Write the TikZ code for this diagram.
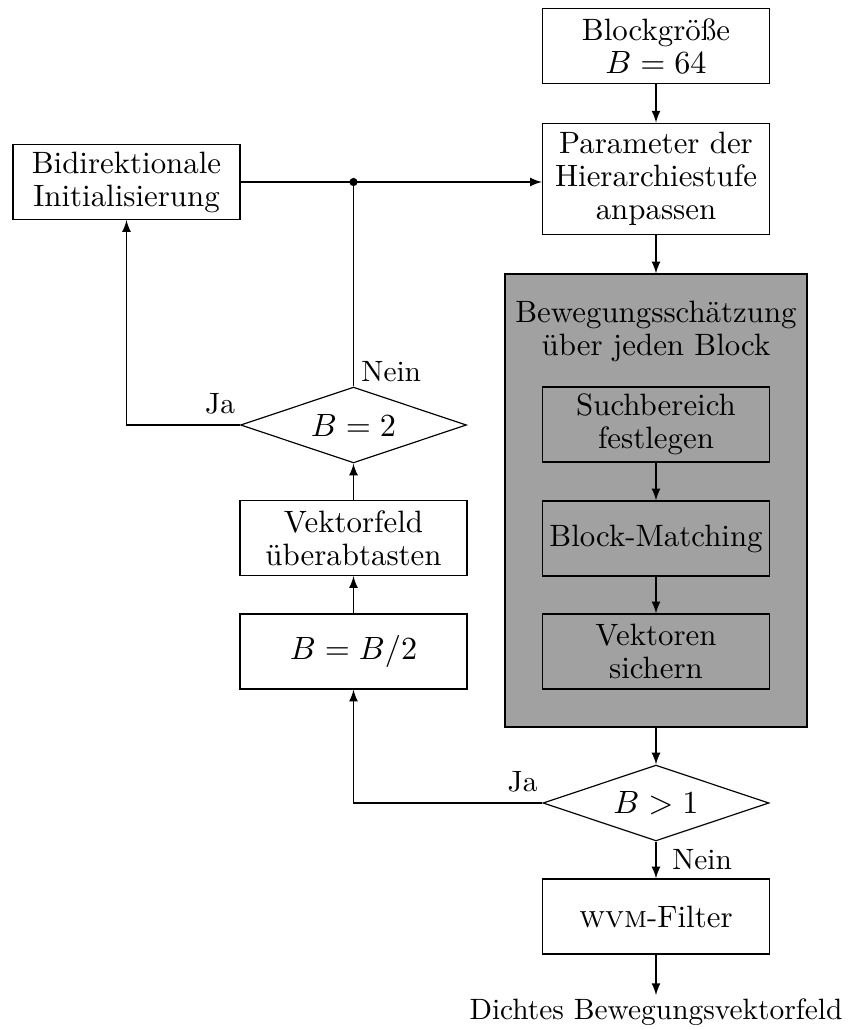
\documentclass[tikz,border=0pt]{standalone}
\usepackage{tikz}
\usepackage{xcolor}
\usetikzlibrary{
    arrows,
    shapes.geometric,
    calc,
    positioning
}

\begin{document}
\begin{tikzpicture}[x=0.34pt, y=0.34pt, >=latex,
    boxfont/.style={font=\fontsize{10.5pt}{11.2pt}\selectfont},
    box/.style={draw, boxfont, align=center, minimum width=77.2pt, minimum height=25.5pt, inner sep=2pt},
    decision/.style={draw, boxfont, diamond, aspect=3, inner sep=0pt, minimum width=76.8pt, minimum height=25.8pt},
    flabel/.style={inner sep=1.5pt}]
                        \useasboundingbox (0, 0) rectangle (855, -1030);
                        \begin{scope}[shift={(656, 0)}]
                            \node[box] (size) at (0, -46) {Blockgröße\\ $B = 64$};
                            \node[box, minimum height=38pt] (param) at (0, -179) {Parameter der\\ Hierarchiestufe\\ anpassen};
                            \node[draw, fill=black!37, minimum width=102.7pt, minimum height=154pt] (est) at (0, -500.5) {};
                            \node[boxfont, align=center] (esttitle) at (0, -331) {Bewegungsschätzung\\ über jeden Block};
                            \node[box] (search) at (0, -424.5) {Suchbereich\\ festlegen};
                            \node[box] (match) at (0, -538.5) {Block-Matching};
                            \node[box] (save) at (0, -651.5) {Vektoren\\ sichern};
                            \node[decision] (gt1) at (0, -803) {$B > 1$};
                            \node[box] (wvm) at (0, -916.5) {\textsc{wvm}-Filter};
                            \node[inner sep=1pt] (out) at (0, -1012) {Dichtes Bewegungsvektorfeld};
                            \draw[->] (size) -- (param);
                            \draw[->] (param) -- (est);
                            \draw[->] (search) -- (match);
                            \draw[->] (match) -- (save);
                            \draw[->] (est) -- (gt1);
                            \draw[->] (gt1) -- node[right, xshift=2pt] (no1) {Nein} (wvm);
                            \draw[->] (wvm) -- (out.north);
                        \end{scope}
                        \begin{scope}[shift={(353.5, 0)}]
                            \node[box] (half) at (0, -651.5) {$B = B/2$};
                            \node[box] (upsample) at (0, -538) {Vektorfeld\\ überabtasten};
                            \node[decision] (eq2) at (0, -425) {$B = 2$};
                            \coordinate (junction) at (0, -182);
                            \draw[->] (half) -- (upsample);
                            \draw[->] (upsample) -- (eq2);
                            \draw[->] (gt1.west) node[flabel, above left, yshift=2pt] (yes1) {Ja} -| (half.south);
                            \draw (eq2.north) node[flabel, above right, xshift=1pt] (no2) {Nein} -- (junction);
                        \end{scope}
                        \begin{scope}[shift={(126.5, 0)}]
                            \node[box] (bidir) at (0, -182) {Bidirektionale\\ Initialisierung};
                            \draw[->] (eq2.west) node[flabel, above left, yshift=2pt] (yes2) {Ja} -| (bidir.south);
                            \draw[->] (bidir.east) -- (bidir.east -| param.west);
                            \fill (junction) circle (1.4pt);
                        \end{scope}
                    \end{tikzpicture}
\end{document}
